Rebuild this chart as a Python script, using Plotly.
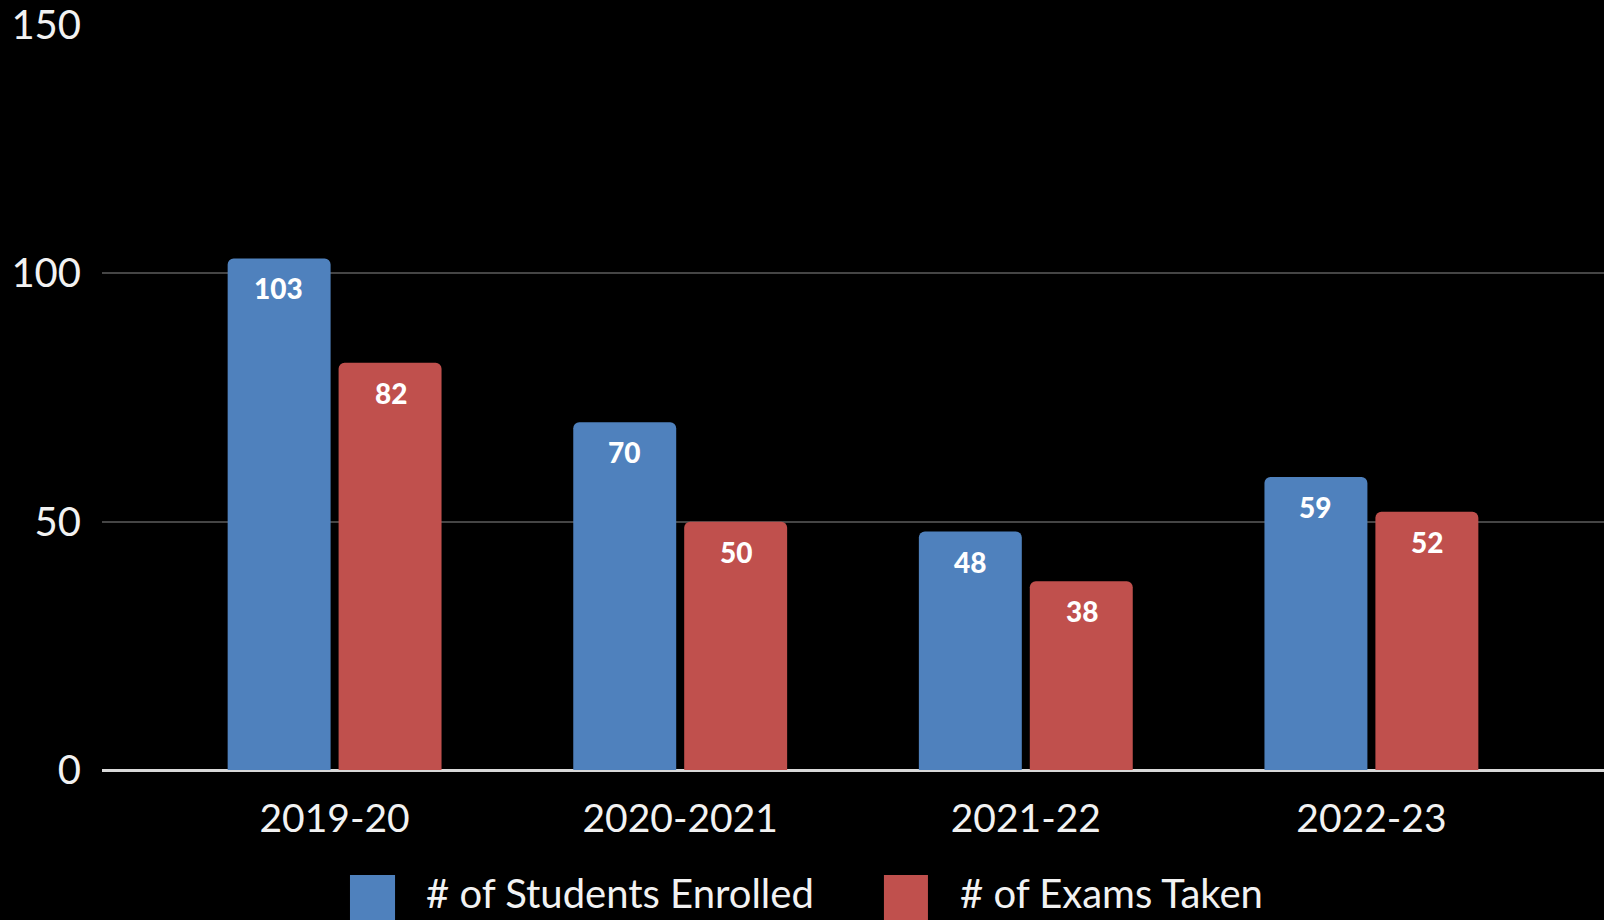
import plotly.graph_objects as go

categories = ["2019-20", "2020-2021", "2021-22", "2022-23"]
enrolled = [103, 70, 48, 59]
exams = [82, 50, 38, 52]
series_names = ["# of Students Enrolled", "# of Exams Taken"]
y_ticks = [0, 50, 100, 150]

BLUE = "#4F81BD"
RED = "#C0504D"
FONT = "Lato, 'Open Sans', sans-serif"

fig = go.Figure()
for name, vals, col in [(series_names[0], enrolled, BLUE), (series_names[1], exams, RED)]:
    fig.add_trace(go.Bar(
        x=categories, y=vals, name=name,
        marker=dict(color=col, cornerradius=6, line=dict(width=0)),
        showlegend=False,
    ))

annotations = []
# value labels placed inside the top of each bar
for vals, xs in [(enrolled, -56), (exams, 56)]:
    for c, v in zip(categories, vals):
        annotations.append(dict(
            x=c, y=v, xref="x", yref="y", text=str(v), showarrow=False,
            xshift=xs, yshift=-30, xanchor="center", yanchor="middle",
            font=dict(family=FONT, size=28, color="white", weight=900),
        ))

# custom legend (large rounded swatches as in the reference)
legend_items = [
    (series_names[0], BLUE, 0.1651, 0.1951, 0.2144),
    (series_names[1], RED, 0.5206, 0.5499, 0.5699),
]
shapes = []
for name, col, x0, x1, tx in legend_items:
    shapes.append(dict(type="rect", xref="paper", yref="paper",
                       x0=x0, x1=x1, y0=-0.141, y1=-0.22,
                       fillcolor=col, line=dict(width=0), layer="above"))
    annotations.append(dict(text=name, xref="paper", yref="paper",
                            x=tx, y=-0.1651, xanchor="left", yanchor="middle",
                            showarrow=False,
                            font=dict(family=FONT, size=40, color="#F2F2F2")))

fig.update_layout(
    width=1604, height=920,
    paper_bgcolor="black", plot_bgcolor="black",
    margin=dict(l=102, r=0, t=25, b=150),
    barmode="group", bargap=0.358, bargroupgap=0.072,
    font=dict(family=FONT, color="#F2F2F2"),
    xaxis=dict(
        type="category", range=[-0.673, 3.673],
        showgrid=False, showline=False, zeroline=False,
        ticks="", tickfont=dict(size=39, color="#F2F2F2"),
        ticklabelstandoff=22,
    ),
    yaxis=dict(
        range=[0, 150], tickvals=y_ticks,
        showgrid=True, gridcolor="#454545", gridwidth=2,
        zeroline=True, zerolinecolor="#D9D9D9", zerolinewidth=3,
        showline=False, ticks="",
        tickfont=dict(size=40, color="#F2F2F2"),
        ticklabelstandoff=20,
    ),
    showlegend=False,
    shapes=shapes,
    annotations=annotations,
)

fig.write_html(
    "out.html",
    config={"displayModeBar": False},
    post_script="document.body.style.margin='0';document.body.style.overflow='hidden';document.body.style.background='black';",
)
